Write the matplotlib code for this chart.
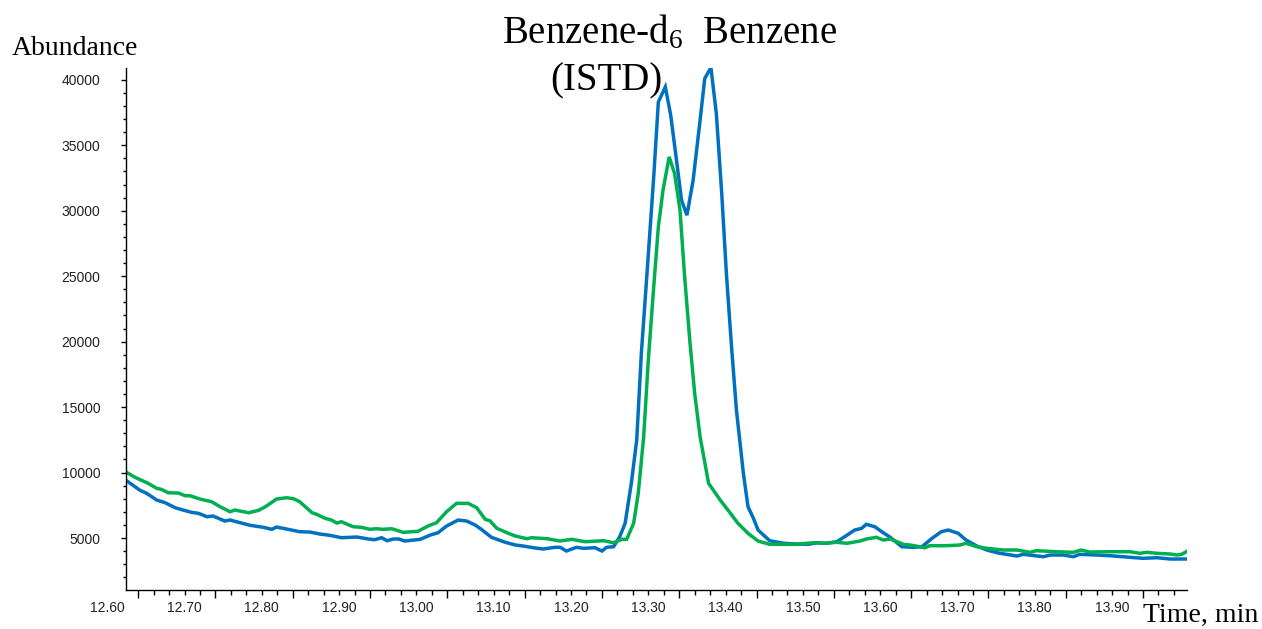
import matplotlib
matplotlib.use("Agg")
import matplotlib.pyplot as plt
from matplotlib.ticker import FixedLocator, MultipleLocator
from matplotlib.transforms import ScaledTranslation

# --- Dữ liệu đọc từ sắc ký đồ (thời gian, phút / độ phong phú) ---
blue_time = [
    12.624, 12.641, 12.650, 12.663, 12.674, 12.687, 12.697, 12.708, 12.717, 12.728,
    12.736, 12.751, 12.758, 12.771, 12.784, 12.801, 12.812, 12.818, 12.831, 12.848,
    12.861, 12.874, 12.887, 12.902, 12.922, 12.937, 12.945, 12.954, 12.961, 12.969,
    12.976, 12.984, 13.004, 13.017, 13.027, 13.038, 13.053, 13.064, 13.075, 13.083,
    13.096, 13.114, 13.127, 13.137, 13.150, 13.163, 13.178, 13.185, 13.193, 13.206,
    13.215, 13.230, 13.239, 13.245, 13.254, 13.262, 13.269, 13.277, 13.284, 13.290,
    13.297, 13.306, 13.312, 13.321, 13.328, 13.336, 13.342, 13.349, 13.357, 13.366,
    13.372, 13.380, 13.387, 13.394, 13.400, 13.407, 13.413, 13.422, 13.428, 13.435,
    13.441, 13.456, 13.474, 13.491, 13.506, 13.517, 13.528, 13.543, 13.553, 13.566,
    13.575, 13.581, 13.592, 13.601, 13.612, 13.627, 13.642, 13.653, 13.666, 13.678,
    13.687, 13.700, 13.710, 13.724, 13.737, 13.752, 13.776, 13.784, 13.810, 13.819,
    13.836, 13.849, 13.857, 13.879, 13.896, 13.922, 13.939, 13.957, 13.974, 13.995,
]
blue_abund = [
    9375, 8665, 8413, 7901, 7695, 7313, 7138, 6962, 6886, 6627,
    6680, 6298, 6374, 6168, 5970, 5817, 5664, 5840, 5687, 5481,
    5458, 5306, 5206, 5023, 5077, 4924, 4870, 5023, 4794, 4924,
    4924, 4771, 4901, 5229, 5405, 5916, 6374, 6298, 5993, 5664,
    5054, 4672, 4466, 4390, 4260, 4160, 4290, 4290, 4008, 4290,
    4214, 4260, 4008, 4290, 4336, 5099, 6122, 9176, 12481, 19100,
    24948, 32582, 38307, 39452, 37292, 33605, 30803, 29658, 32330, 36910,
    40094, 40934, 37422, 31315, 25208, 19352, 14772, 9940, 7390, 6504,
    5611, 4794, 4596, 4542, 4519, 4641, 4596, 4718, 5099, 5611,
    5741, 6046, 5863, 5481, 5054, 4336, 4290, 4336, 4977, 5481,
    5611, 5359, 4847, 4390, 4084, 3850, 3626, 3756, 3573, 3702,
    3702, 3573, 3756, 3702, 3649, 3527, 3450, 3496, 3397, 3397,
]

green_time = [
    12.624, 12.635, 12.652, 12.663, 12.669, 12.678, 12.691, 12.700, 12.706, 12.719,
    12.734, 12.745, 12.758, 12.764, 12.782, 12.795, 12.805, 12.818, 12.831, 12.840,
    12.848, 12.864, 12.870, 12.881, 12.889, 12.896, 12.902, 12.917, 12.928, 12.939,
    12.947, 12.956, 12.967, 12.982, 13.001, 13.014, 13.025, 13.038, 13.051, 13.066,
    13.077, 13.088, 13.094, 13.103, 13.118, 13.127, 13.142, 13.148, 13.168, 13.185,
    13.200, 13.217, 13.241, 13.254, 13.265, 13.271, 13.280, 13.286, 13.293, 13.299,
    13.306, 13.312, 13.318, 13.326, 13.333, 13.340, 13.346, 13.353, 13.359, 13.366,
    13.377, 13.392, 13.402, 13.415, 13.428, 13.441, 13.456, 13.474, 13.491, 13.512,
    13.528, 13.543, 13.556, 13.573, 13.581, 13.594, 13.603, 13.612, 13.629, 13.638,
    13.657, 13.663, 13.685, 13.702, 13.710, 13.724, 13.737, 13.758, 13.776, 13.793,
    13.801, 13.827, 13.849, 13.859, 13.870, 13.896, 13.922, 13.935, 13.944, 13.957,
    13.974, 13.983, 13.989, 13.995,
]
green_abund = [
    10016, 9634, 9176, 8794, 8718, 8459, 8436, 8230, 8230, 7977,
    7772, 7390, 7008, 7138, 6932, 7115, 7443, 7977, 8077, 8000,
    7772, 6932, 6810, 6504, 6374, 6145, 6245, 5863, 5817, 5664,
    5710, 5664, 5710, 5435, 5512, 5916, 6168, 7008, 7649, 7649,
    7313, 6428, 6321, 5741, 5359, 5153, 4947, 5023, 4947, 4771,
    4901, 4718, 4794, 4641, 4901, 4901, 6122, 8413, 12733, 18589,
    24184, 28765, 31566, 34109, 32841, 30040, 24948, 19864, 16047, 12733,
    9176, 7901, 7138, 6122, 5359, 4771, 4519, 4519, 4519, 4641,
    4596, 4672, 4596, 4771, 4924, 5054, 4847, 4924, 4519, 4466,
    4260, 4413, 4413, 4466, 4596, 4336, 4214, 4084, 4084, 3908,
    4031, 3954, 3908, 4084, 3932, 3954, 3954, 3832, 3908, 3832,
    3779, 3702, 3756, 3954,
]

# Nhãn trục x (được in lệch trái so với vạch chia chính)
x_labels = ["12.60", "12.70", "12.80", "12.90", "13.00", "13.10", "13.20",
            "13.30", "13.40", "13.50", "13.60", "13.70", "13.80", "13.90"]
x_major_ticks = [12.639 + 0.1 * i for i in range(len(x_labels))]
y_ticks = [5000, 10000, 15000, 20000, 25000, 30000, 35000, 40000]

BLUE = "#0070C0"
GREEN = "#00B050"

plt.rcParams["mathtext.fontset"] = "custom"
plt.rcParams["mathtext.rm"] = "Liberation Serif"
plt.rcParams["mathtext.it"] = "Liberation Serif:italic"

fig = plt.figure(figsize=(12.62, 6.29), dpi=100)
ax = fig.add_axes([126 / 1262, 39 / 629, (1187 - 126) / 1262, (590 - 68) / 629])

ax.plot(blue_time, blue_abund, color=BLUE, lw=2.5, solid_joinstyle="miter")
ax.plot(green_time, green_abund, color=GREEN, lw=2.5, solid_joinstyle="miter")

ax.set_xlim(12.6233, 13.9959)
ax.set_ylim(1030, 40900)

for side in ["top", "right"]:
    ax.spines[side].set_visible(False)
for side in ["left", "bottom"]:
    ax.spines[side].set_linewidth(1.0)
    ax.spines[side].set_color("black")

# Trục x
ax.xaxis.set_major_locator(FixedLocator(x_major_ticks))
ax.xaxis.set_minor_locator(FixedLocator(
    [12.639 + 0.02 * i for i in range(-1, 70) if 12.6233 < 12.639 + 0.02 * i < 13.9959]))
ax.set_xticklabels(x_labels)
ax.tick_params(axis="x", which="major", direction="out", length=6, width=1,
               pad=2, labelsize=10, labelcolor="#222222")
ax.tick_params(axis="x", which="minor", direction="out", length=3.5, width=1)
offset = ScaledTranslation(-0.31, 0, fig.dpi_scale_trans)
for lbl in ax.get_xticklabels():
    lbl.set_transform(lbl.get_transform() + offset)
    lbl.set_fontfamily("Liberation Sans")

# Trục y
ax.set_yticks(y_ticks)
ax.yaxis.set_minor_locator(MultipleLocator(1000))
ax.tick_params(axis="y", which="major", direction="out", length=3.5, width=1,
               pad=15, labelsize=10, labelcolor="#222222")
ax.tick_params(axis="y", which="minor", direction="out", length=2.5, width=1)
for lbl in ax.get_yticklabels():
    lbl.set_fontfamily("Liberation Sans")

# Chú thích
serif = "Liberation Serif"
fig.text(12 / 1262, 1 - 55 / 629, "Abundance", family=serif, fontsize=20,
         ha="left", va="baseline")
fig.text(1143 / 1262, 1 - 622 / 629, "Time, min", family=serif, fontsize=20,
         ha="left", va="baseline")
fig.text(502 / 1262, 1 - 43 / 629, r"Benzene-d$_6$  Benzene", family=serif,
         fontsize=28, ha="left", va="baseline")
fig.text(550 / 1262, 1 - 90 / 629, "(ISTD)", family=serif, fontsize=28,
         ha="left", va="baseline")

fig.savefig("out.png", dpi=100)
